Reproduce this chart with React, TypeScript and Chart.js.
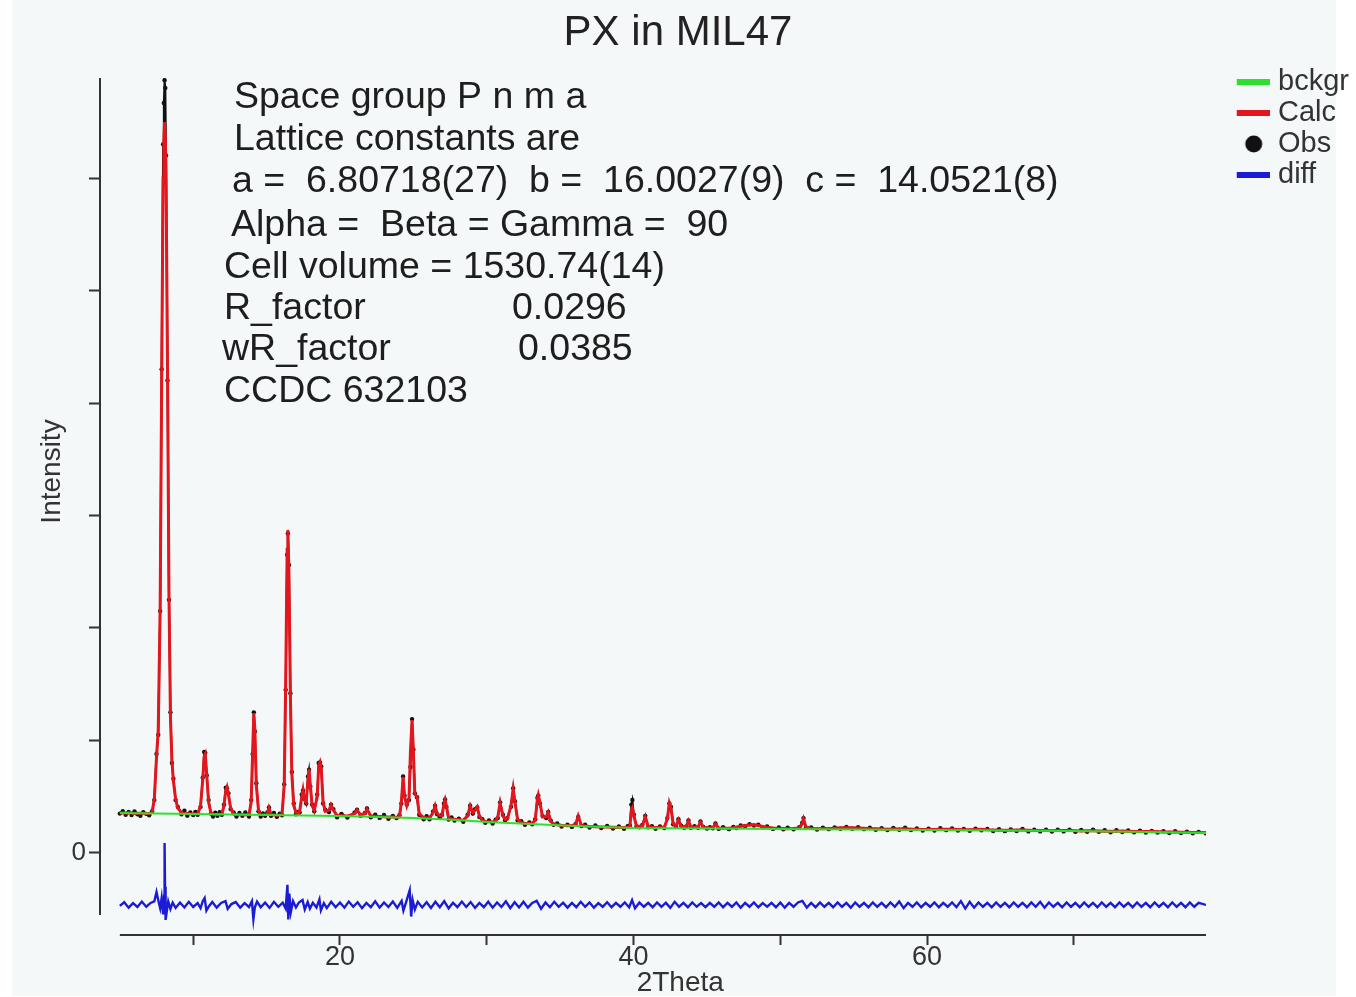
import { useEffect, useRef } from 'react';
import { Chart, registerables } from 'chart.js';

Chart.register(...registerables);

// ---------- text ----------
const chartTitle = 'PX in MIL47';
const xAxisTitle = '2Theta';
const yAxisTitle = 'Intensity';
const seriesNames = ['bckgr', 'Calc', 'Obs', 'diff'];
const xTickValues = [10, 20, 30, 40, 50, 60, 70];
const xTickLabels = ['20', '40', '60'];
const yTickValues = [0, 1000, 2000, 3000, 4000, 5000, 6000];
const yTickLabels = ['0'];
const infoLines = [
  'Space group P n m a',
  'Lattice constants are',
  'a =  6.80718(27)  b =  16.0027(9)  c =  14.0521(8)',
  'Alpha =  Beta = Gamma =  90',
  'Cell volume = 1530.74(14)',
  'R_factor',
  '0.0296',
  'wR_factor',
  '0.0385',
  'CCDC 632103',
];

// ---------- data (2Theta in degrees, intensity in counts) ----------
const twoTheta = [
  5.0, 5.2, 5.4, 5.6, 5.8, 6.0, 6.2, 6.4, 6.6, 6.8,
  7.0, 7.2, 7.35, 7.5, 7.62, 7.75, 7.85, 7.95, 8.0, 8.05,
  8.1, 8.15, 8.25, 8.35, 8.45, 8.55, 8.65, 8.8, 8.95, 9.2,
  9.4, 9.6, 9.8, 10.0, 10.15, 10.3, 10.5, 10.65, 10.75, 10.82,
  10.92, 11.05, 11.2, 11.35, 11.5, 11.65, 11.8, 11.95, 12.1, 12.22,
  12.3, 12.4, 12.55, 12.75, 12.95, 13.15, 13.35, 13.55, 13.8, 13.95,
  14.05, 14.13, 14.2, 14.3, 14.45, 14.6, 14.75, 14.9, 15.05, 15.16,
  15.3, 15.5, 15.7, 15.9, 16.05, 16.2, 16.3, 16.4, 16.45, 16.52,
  16.62, 16.72, 16.85, 17.0, 17.15, 17.25, 17.4, 17.48, 17.58, 17.7,
  17.82, 17.89, 17.98, 18.1, 18.25, 18.45, 18.55, 18.64, 18.72, 18.85,
  19.0, 19.25, 19.39, 19.55, 19.8, 20.1, 20.5, 21.0, 21.16, 21.4,
  21.7, 21.84, 22.1, 22.4, 22.7, 23.0, 23.3, 23.6, 23.85, 24.05,
  24.18, 24.3, 24.4, 24.55, 24.7, 24.8, 24.91, 25.0, 25.1, 25.25,
  25.4, 25.7, 25.9, 26.1, 26.35, 26.48, 26.62, 26.8, 26.95, 27.08,
  27.16, 27.25, 27.4, 27.6, 27.8, 28.1, 28.4, 28.7, 28.87, 29.05,
  29.2, 29.35, 29.5, 29.7, 29.9, 30.15, 30.4, 30.6, 30.75, 30.91,
  31.1, 31.25, 31.4, 31.65, 31.8, 31.92, 32.1, 32.35, 32.6, 32.9,
  33.1, 33.3, 33.45, 33.51, 33.62, 33.8, 34.05, 34.19, 34.35, 34.55,
  34.8, 35.1, 35.5, 35.8, 36.05, 36.23, 36.45, 36.7, 37.0, 37.4,
  37.8, 38.2, 38.6, 39.0, 39.35, 39.6, 39.75, 39.85, 39.92, 40.02,
  40.2, 40.4, 40.6, 40.8, 41.0, 41.25, 41.5, 41.8, 42.1, 42.3,
  42.44, 42.55, 42.7, 42.9, 43.06, 43.25, 43.45, 43.6, 43.74, 43.9,
  44.15, 44.4, 44.56, 44.75, 45.0, 45.2, 45.4, 45.58, 45.8, 46.1,
  46.5, 46.8, 47.0, 47.3, 47.6, 47.9, 48.2, 48.5, 48.8, 49.1,
  49.5, 49.9, 50.2, 50.5, 50.9, 51.3, 51.5, 51.58, 51.75, 52.1,
  52.5, 52.9, 53.3, 53.7, 54.1, 54.5, 54.9, 55.3, 55.7, 56.1,
  56.5, 56.9, 57.3, 57.7, 58.1, 58.5, 58.9, 59.3, 59.7, 60.1,
  60.5, 60.9, 61.3, 61.7, 62.1, 62.5, 62.9, 63.3, 63.7, 64.1,
  64.5, 64.9, 65.3, 65.7, 66.1, 66.5, 66.9, 67.3, 67.7, 68.1,
  68.5, 68.9, 69.3, 69.7, 70.1, 70.5, 70.9, 71.3, 71.7, 72.1,
  72.5, 72.9, 73.3, 73.7, 74.1, 74.5, 74.9, 75.3, 75.7, 76.1,
  76.5, 76.9, 77.3, 77.7, 78.1, 78.5, 79.0,
];

const calcCounts = [
  356, 357, 356, 358, 355, 352, 354, 353, 354, 352,
  352, 360, 480, 850, 1100, 2200, 4200, 6000, 6350, 6498,
  6350, 6000, 4300, 2300, 1200, 820, 640, 480, 400, 360,
  352, 350, 348, 347, 346, 348, 420, 650, 860, 880,
  700, 450, 360, 345, 342, 343, 344, 345, 420, 560,
  587, 520, 400, 345, 341, 340, 342, 341, 340, 450,
  900, 1244, 1100, 600, 380, 342, 340, 339, 345, 400,
  345, 337, 336, 337, 345, 600, 1500, 2700, 2871, 2500,
  1400, 700, 420, 360, 350, 370, 500, 560, 470, 450,
  650, 747, 600, 420, 380, 500, 780, 809, 760, 450,
  370, 380, 427, 380, 335, 332, 328, 350, 382, 340,
  350, 391, 330, 326, 325, 322, 320, 319, 318, 320,
  450, 676, 500, 420, 480, 900, 1182, 900, 520, 500,
  350, 315, 313, 312, 360, 418, 350, 332, 330, 430,
  471, 420, 310, 302, 300, 296, 292, 330, 418, 360,
  380, 410, 330, 290, 280, 278, 275, 285, 320, 444,
  330, 300, 300, 420, 569, 450, 300, 270, 262, 262,
  265, 290, 480, 516, 450, 320, 320, 360, 280, 260,
  250, 246, 242, 244, 250, 330, 245, 240, 236, 234,
  232, 230, 228, 226, 226, 228, 235, 380, 400, 330,
  240, 238, 240, 320, 235, 228, 225, 228, 230, 300,
  444, 400, 260, 240, 293, 235, 233, 240, 284, 232,
  230, 232, 275, 225, 224, 223, 225, 258, 222, 221,
  220, 224, 230, 238, 245, 248, 250, 244, 235, 228,
  222, 218, 216, 216, 218, 222, 260, 300, 230, 218,
  215, 216, 218, 220, 224, 225, 224, 222, 220, 216,
  215, 213, 212, 213, 214, 215, 212, 210, 209, 208,
  208, 210, 212, 210, 208, 206, 207, 209, 210, 206,
  204, 203, 202, 203, 204, 205, 202, 200, 200, 199,
  198, 199, 200, 199, 197, 196, 197, 198, 196, 194,
  193, 194, 195, 194, 191, 190, 190, 190, 189, 187,
  186, 186, 185, 184, 183, 182, 180,
];

const obsCounts = [
  350, 372, 340, 365, 338, 370, 345, 330, 362, 348,
  335, 372, 470, 880, 1050, 2150, 4300, 6300, 6667, 6870,
  6800, 6200, 4200, 2250, 1250, 800, 660, 470, 410, 345,
  375, 332, 360, 338, 365, 340, 410, 670, 898, 890,
  690, 470, 350, 325, 358, 330, 362, 340, 430, 580,
  575, 530, 390, 360, 325, 355, 330, 360, 325, 470,
  880, 1250, 1080, 620, 370, 325, 352, 330, 360, 405,
  330, 355, 322, 350, 335, 610, 1450, 2650, 2840, 2560,
  1420, 720, 440, 345, 365, 360, 520, 555, 480, 440,
  680, 740, 590, 430, 370, 520, 800, 805, 770, 440,
  385, 365, 430, 390, 318, 348, 315, 360, 385, 330,
  355, 395, 318, 340, 312, 338, 305, 330, 310, 335,
  440, 680, 510, 430, 470, 764, 1190, 920, 530, 495,
  340, 300, 328, 300, 370, 420, 345, 318, 340, 440,
  475, 410, 298, 315, 288, 305, 278, 340, 420, 350,
  390, 405, 320, 300, 268, 290, 262, 295, 310, 450,
  340, 290, 312, 410, 575, 460, 290, 282, 250, 272,
  255, 300, 490, 510, 440, 330, 310, 365, 290, 250,
  262, 236, 252, 232, 258, 320, 240, 252, 226, 244,
  222, 240, 218, 235, 215, 238, 245, 430, 471, 340,
  235, 228, 250, 330, 228, 238, 215, 236, 222, 310,
  440, 410, 255, 232, 300, 242, 225, 236, 290, 225,
  238, 225, 280, 232, 218, 230, 220, 262, 214, 230,
  212, 232, 222, 245, 238, 256, 244, 252, 228, 236,
  214, 226, 210, 224, 210, 230, 270, 310, 224, 226,
  208, 224, 212, 228, 216, 232, 215, 230, 212, 224,
  206, 220, 205, 222, 206, 224, 204, 218, 200, 216,
  200, 220, 203, 218, 200, 214, 198, 217, 202, 214,
  196, 212, 194, 210, 196, 214, 192, 208, 192, 206,
  190, 208, 192, 206, 188, 204, 188, 206, 188, 202,
  185, 202, 186, 200, 184, 198, 182, 196, 182, 194,
  178, 193, 177, 190, 176, 188, 174,
];

const bckgrTheta = [5, 10, 15, 20, 22, 25, 28, 30, 33, 36, 40, 45, 50, 55, 60, 65, 70, 75, 79];
const bckgrCounts = [356, 347, 338, 329, 322, 311, 293, 276, 258, 240, 222, 218, 213, 209, 204, 200, 196, 187, 178];

const diffTheta = [
  5.0, 5.3, 5.6, 5.9, 6.2, 6.5, 6.8, 7.1, 7.35, 7.5,
  7.62, 7.75, 7.85, 7.95, 8.02, 8.05, 8.08, 8.12, 8.2, 8.3,
  8.45, 8.6, 8.8, 9.1, 9.4, 9.7, 10.0, 10.3, 10.5, 10.65,
  10.78, 10.9, 11.05, 11.3, 11.6, 11.9, 12.2, 12.35, 12.6, 12.9,
  13.2, 13.5, 13.8, 14.0, 14.1, 14.2, 14.35, 14.6, 14.9, 15.2,
  15.5, 15.8, 16.1, 16.3, 16.42, 16.48, 16.55, 16.65, 16.8, 17.0,
  17.2, 17.45, 17.6, 17.8, 17.95, 18.15, 18.4, 18.6, 18.7, 18.9,
  19.1, 19.4, 19.7, 20.0, 20.3, 20.6, 20.9, 21.2, 21.5, 21.8,
  22.1, 22.4, 22.7, 23.0, 23.3, 23.6, 23.9, 24.2, 24.32, 24.5,
  24.75, 24.85, 24.95, 25.1, 25.3, 25.6, 25.9, 26.2, 26.5, 26.8,
  27.1, 27.4, 27.7, 28.0, 28.3, 28.6, 28.9, 29.2, 29.5, 29.8,
  30.1, 30.4, 30.7, 31.0, 31.3, 31.6, 31.9, 32.2, 32.5, 32.8,
  33.1, 33.4, 33.7, 34.0, 34.3, 34.6, 34.9, 35.2, 35.5, 35.8,
  36.1, 36.4, 36.7, 37.0, 37.3, 37.6, 37.9, 38.2, 38.5, 38.8,
  39.1, 39.4, 39.7, 39.9, 40.1, 40.4, 40.7, 41.0, 41.3, 41.6,
  41.9, 42.2, 42.5, 42.8, 43.1, 43.4, 43.7, 44.0, 44.3, 44.6,
  44.9, 45.2, 45.5, 45.8, 46.1, 46.4, 46.7, 47.0, 47.3, 47.6,
  47.9, 48.2, 48.5, 48.8, 49.1, 49.4, 49.7, 50.0, 50.3, 50.6,
  50.9, 51.2, 51.5, 51.8, 52.1, 52.4, 52.7, 53.0, 53.3, 53.6,
  53.9, 54.2, 54.5, 54.8, 55.1, 55.4, 55.7, 56.0, 56.3, 56.6,
  56.9, 57.2, 57.5, 57.8, 58.1, 58.4, 58.7, 59.0, 59.3, 59.6,
  59.9, 60.2, 60.5, 60.8, 61.1, 61.4, 61.7, 62.0, 62.3, 62.6,
  62.9, 63.2, 63.5, 63.8, 64.1, 64.4, 64.7, 65.0, 65.3, 65.6,
  65.9, 66.2, 66.5, 66.8, 67.1, 67.4, 67.7, 68.0, 68.3, 68.6,
  68.9, 69.2, 69.5, 69.8, 70.1, 70.4, 70.7, 71.0, 71.3, 71.6,
  71.9, 72.2, 72.5, 72.8, 73.1, 73.4, 73.7, 74.0, 74.3, 74.6,
  74.9, 75.2, 75.5, 75.8, 76.1, 76.4, 76.7, 77.0, 77.3, 77.6,
  77.9, 78.2, 78.5, 79.0,
];

const diffCounts = [
  -470, -438, -486, -446, -480, -432, -478, -444, -430, -347,
  -420, -492, -400, -545, -380, 89, -300, -595, -520, -430,
  -498, -442, -488, -440, -484, -434, -480, -446, -490, -428,
  -400, -512, -478, -436, -486, -444, -428, -496, -454, -436,
  -486, -446, -480, -428, -590, -482, -432, -482, -440, -488,
  -434, -478, -442, -494, -282, -590, -360, -525, -428, -484,
  -440, -418, -502, -436, -494, -442, -484, -412, -510, -446,
  -490, -434, -482, -440, -486, -432, -478, -438, -490, -444,
  -482, -430, -486, -440, -480, -432, -488, -426, -512, -438,
  -330, -565, -418, -502, -434, -484, -438, -488, -434, -482,
  -428, -492, -442, -482, -432, -480, -436, -488, -444, -482,
  -434, -486, -440, -480, -430, -490, -438, -484, -434, -486,
  -444, -426, -496, -440, -482, -434, -478, -442, -486, -444,
  -482, -434, -478, -440, -486, -446, -478, -438, -482, -444,
  -478, -440, -482, -418, -492, -440, -478, -444, -482, -440,
  -478, -442, -488, -434, -478, -444, -482, -440, -478, -446,
  -482, -444, -478, -440, -482, -444, -478, -440, -486, -444,
  -478, -440, -482, -446, -478, -444, -482, -440, -486, -444,
  -478, -440, -426, -486, -444, -482, -440, -478, -444, -482,
  -440, -478, -444, -486, -440, -478, -444, -482, -440, -478,
  -444, -482, -440, -478, -432, -490, -444, -478, -440, -482,
  -444, -478, -440, -482, -444, -478, -440, -482, -428, -494,
  -434, -486, -440, -478, -444, -482, -440, -478, -444, -482,
  -440, -478, -444, -482, -440, -478, -434, -486, -440, -478,
  -444, -482, -440, -478, -444, -482, -440, -478, -444, -482,
  -440, -478, -444, -482, -440, -478, -444, -482, -440, -478,
  -444, -482, -440, -478, -444, -482, -440, -478, -444, -482,
  -440, -478, -444, -462,
];

// ---------- axis ranges ----------
const X_MIN = 3.65;
const X_MAX = 79;
const X_LINE_FROM = 5;
const X_LINE_TO = 79;
const Y_MIN = -729;
const Y_MAX = 6889;
const Y_LINE_FROM = -551;
const Y_LINE_TO = 6889;

// ---------- styles ----------
const FONT = '"Liberation Sans", Arial, Helvetica, sans-serif';
const AXIS = '#333333';
const TEXT = '#1e1e1e';
const GREEN = '#2ee02e';
const RED = '#e3161d';
const BLACK = '#111111';
const BLUE = '#1b1bd6';
const seriesColors = [GREEN, RED, BLACK, BLUE];

// annotation layout (x, y-centre in canvas pixels)
const infoPos: [number, number][] = [
  [234, 98], [234, 140], [232, 182], [231, 226], [224, 268],
  [224, 309], [512, 309], [222, 350], [518, 350], [224, 392],
];

const toPoints = (xs: number[], ys: number[]) => xs.map((x, i) => ({ x, y: ys[i] }));

function makeIcon(kind: 'line' | 'dot', color: string): HTMLCanvasElement {
  const c = document.createElement('canvas');
  if (kind === 'line') {
    c.width = 68; c.height = 6;
    const g = c.getContext('2d')!;
    g.fillStyle = color;
    g.fillRect(35, 0, 33, 6);
  } else {
    c.width = 68; c.height = 20;
    const g = c.getContext('2d')!;
    g.fillStyle = color;
    g.beginPath();
    g.arc(52, 10, 8.5, 0, Math.PI * 2);
    g.fill();
  }
  return c;
}

const backgroundPlugin = {
  id: 'bgFill',
  beforeDraw(chart: any) {
    const { ctx, width, height } = chart;
    ctx.save();
    ctx.fillStyle = '#ffffff';
    ctx.fillRect(0, 0, width, height);
    ctx.fillStyle = '#f4f8f8';
    ctx.fillRect(12, 0, 1324, 996);
    ctx.restore();
  },
};

const axisLinePlugin = {
  id: 'axisLines',
  afterDraw(chart: any) {
    const { ctx, chartArea, scales } = chart;
    ctx.save();
    ctx.strokeStyle = AXIS;
    ctx.lineWidth = 2;
    ctx.beginPath();
    ctx.moveTo(chartArea.left, scales.y.getPixelForValue(Y_LINE_TO));
    ctx.lineTo(chartArea.left, scales.y.getPixelForValue(Y_LINE_FROM));
    ctx.moveTo(scales.x.getPixelForValue(X_LINE_FROM), chartArea.bottom);
    ctx.lineTo(scales.x.getPixelForValue(X_LINE_TO), chartArea.bottom);
    ctx.stroke();
    ctx.restore();
  },
};

const infoPlugin = {
  id: 'infoText',
  afterDraw(chart: any) {
    const { ctx } = chart;
    ctx.save();
    ctx.font = `37.5px ${FONT}`;
    ctx.fillStyle = TEXT;
    ctx.textBaseline = 'middle';
    ctx.textAlign = 'left';
    infoLines.forEach((t, i) => ctx.fillText(t, infoPos[i][0], infoPos[i][1]));
    ctx.restore();
  },
};

export default function App() {
  const ref = useRef<HTMLCanvasElement>(null);

  useEffect(() => {
    if (!ref.current) return;
    const icons = [
      makeIcon('line', GREEN),
      makeIcon('line', RED),
      makeIcon('dot', BLACK),
      makeIcon('line', BLUE),
    ];
    const chart = new Chart(ref.current, {
      type: 'line',
      data: {
        datasets: [
          {
            label: seriesNames[0],
            data: toPoints(bckgrTheta, bckgrCounts),
            borderColor: seriesColors[0],
            borderWidth: 2,
            pointRadius: 0,
            order: 0,
          },
          {
            label: seriesNames[1],
            data: toPoints(twoTheta, calcCounts),
            borderColor: seriesColors[1],
            borderWidth: 3,
            pointRadius: 0,
            order: 1,
          },
          {
            label: seriesNames[2],
            data: toPoints(twoTheta, obsCounts),
            borderColor: seriesColors[2],
            backgroundColor: seriesColors[2],
            borderWidth: 2,
            pointRadius: 2.2,
            pointBorderWidth: 0,
            pointBackgroundColor: seriesColors[2],
            order: 2,
          },
          {
            label: seriesNames[3],
            data: toPoints(diffTheta, diffCounts),
            borderColor: seriesColors[3],
            borderWidth: 2.4,
            pointRadius: 0,
            order: 3,
          },
        ],
      } as any,
      options: {
        responsive: false,
        animation: false,
        devicePixelRatio: 1,
        layout: { padding: 0 },
        scales: {
          x: {
            type: 'linear',
            min: X_MIN,
            max: X_MAX,
            afterFit: (s: any) => { s.height = 62; },
            afterBuildTicks: (s: any) => { s.ticks = xTickValues.map((value) => ({ value })); },
            border: { display: false },
            grid: { display: true, drawOnChartArea: false, drawTicks: true, tickLength: 10, tickWidth: 2, tickColor: AXIS },
            ticks: {
              autoSkip: false,
              maxRotation: 0,
              padding: -4,
              color: AXIS,
              font: { family: FONT, size: 27 },
              callback: (v: any) => (xTickLabels.includes(String(v)) ? String(v) : ''),
            },
            title: {
              display: true,
              text: '       ' + xAxisTitle,
              color: AXIS,
              font: { family: FONT, size: 28 },
              padding: { top: 0, bottom: -3 },
            },
          },
          y: {
            type: 'linear',
            min: Y_MIN,
            max: Y_MAX,
            afterFit: (s: any) => { s.width = 100; },
            afterBuildTicks: (s: any) => { s.ticks = yTickValues.map((value) => ({ value })); },
            border: { display: false },
            grid: { display: true, drawOnChartArea: false, drawTicks: true, tickLength: 11, tickWidth: 2, tickColor: AXIS },
            ticks: {
              autoSkip: false,
              padding: 3,
              color: AXIS,
              font: { family: FONT, size: 26 },
              callback: (v: any) => (yTickLabels.includes(String(v)) ? String(v) : ''),
            },
            title: {
              display: true,
              text: '         ' + yAxisTitle,
              color: AXIS,
              font: { family: FONT, size: 28 },
              padding: { top: 35, bottom: 0 },
            },
          },
        },
        plugins: {
          title: {
            display: true,
            text: chartTitle,
            color: '#222222',
            font: { family: FONT, size: 42, weight: 'normal' },
            padding: { top: 7.8, bottom: 19.8 },
          },
          legend: {
            display: true,
            position: 'right',
            align: 'start',
            fullSize: true,
            maxWidth: 150,
            title: { display: true, text: '', font: { size: 10 }, padding: { top: 53.5, bottom: 0 } },
            labels: {
              usePointStyle: true,
              pointStyleWidth: 55.5,
              padding: 2,
              color: AXIS,
              font: { family: FONT, size: 29 },
              generateLabels: (c: any) =>
                c.data.datasets.map((ds: any, i: number) => ({
                  text: ds.label,
                  fontColor: AXIS,
                  pointStyle: icons[i],
                  fillStyle: 'rgba(0,0,0,0)',
                  strokeStyle: 'rgba(0,0,0,0)',
                  lineWidth: 0,
                  hidden: false,
                  datasetIndex: i,
                })),
            },
          },
          tooltip: { enabled: false },
        },
      } as any,
      plugins: [backgroundPlugin, axisLinePlugin, infoPlugin],
    });
    return () => chart.destroy();
  }, []);

  return (
    <div style={{ position: 'fixed', left: 0, top: 0, width: 1356, height: 997, background: '#ffffff' }}>
      <canvas ref={ref} width={1356} height={997} style={{ display: 'block', width: 1356, height: 997 }} />
    </div>
  );
}
